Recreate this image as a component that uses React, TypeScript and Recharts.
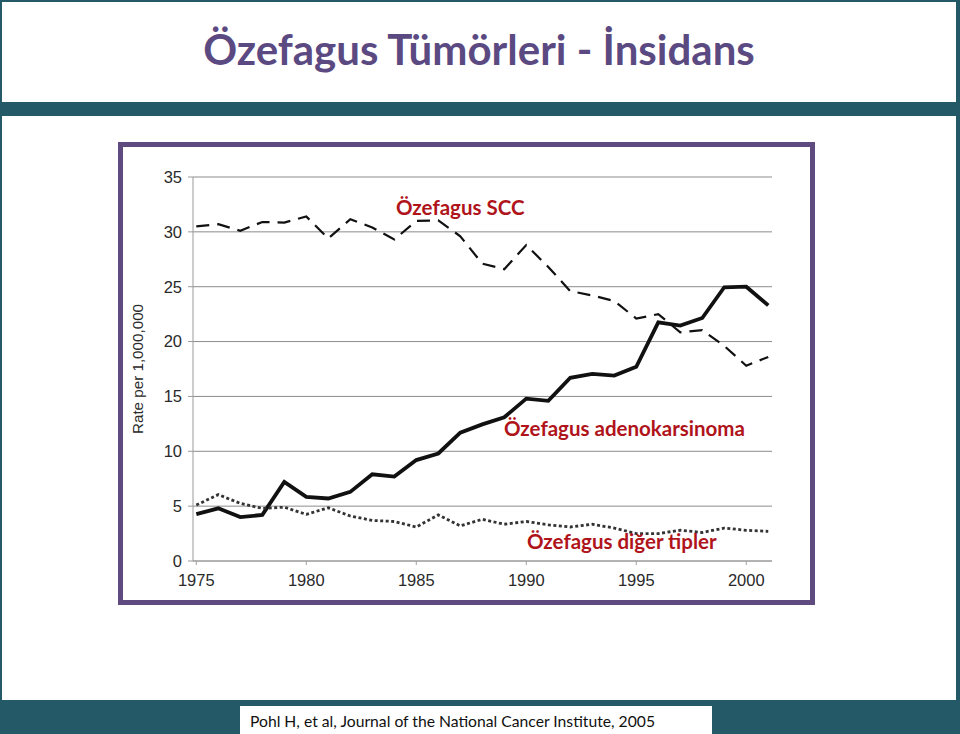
import type { CSSProperties } from 'react';
import { CartesianGrid, Line, LineChart, XAxis, YAxis } from 'recharts';

const years = [
  1975, 1976, 1977, 1978, 1979, 1980, 1981, 1982, 1983, 1984, 1985, 1986, 1987, 1988,
  1989, 1990, 1991, 1992, 1993, 1994, 1995, 1996, 1997, 1998, 1999, 2000, 2001
];
const sccRates = [
  30.5, 30.7, 30.1, 30.9, 30.85, 31.4, 29.4, 31.15, 30.4, 29.3, 31.0, 31.05, 29.6, 27.1,
  26.6, 28.8, 26.8, 24.6, 24.2, 23.7, 22.1, 22.5, 20.85, 21.05, 19.6, 17.8, 18.6
];
const adenoRates = [
  4.27, 4.8, 4.0, 4.2, 7.2, 5.85, 5.7, 6.3, 7.9, 7.7, 9.2, 9.8, 11.7, 12.45,
  13.1, 14.8, 14.6, 16.7, 17.05, 16.9, 17.7, 21.75, 21.45, 22.15, 24.95, 25.0, 23.3
];
const otherRates = [
  5.1, 6.05, 5.25, 4.8, 4.9, 4.25, 4.85, 4.1, 3.7, 3.6, 3.1, 4.2, 3.2, 3.8,
  3.35, 3.6, 3.3, 3.1, 3.35, 3.0, 2.5, 2.5, 2.8, 2.6, 3.0, 2.8, 2.7
];
const xTicks = [1975, 1980, 1985, 1990, 1995, 2000];
const yTicks = [0, 5, 10, 15, 20, 25, 30, 35];

const data = years.map((year, i) => ({
  year,
  scc: sccRates[i],
  adeno: adenoRates[i],
  other: otherRates[i]
}));

const teal = '#245a68';
const purple = '#5f4b7f';
const red = '#b0141b';

const noteStyle: CSSProperties = {
  position: 'absolute',
  color: red,
  fontFamily: 'Lato, sans-serif',
  fontWeight: 700,
  fontSize: 20.5,
  lineHeight: '20px',
  whiteSpace: 'nowrap'
};

const axisFont = '"Liberation Sans", Arial, sans-serif';
const tickStyle = { fill: '#2a2a2a', fontSize: 16.5, fontFamily: axisFont };

export default function App() {
  return (
    <div style={{ position: 'fixed', left: 0, top: 0, width: 960, height: 734, background: teal, overflow: 'hidden' }}>
      {/* title box */}
      <div style={{ position: 'absolute', left: 2, top: 2, width: 954, height: 100, background: '#fff' }} />
      <div
        style={{
          position: 'absolute',
          left: 0,
          top: 24,
          width: 958,
          textAlign: 'center',
          color: '#5b4a82',
          fontFamily: 'Lato, sans-serif',
          fontWeight: 700,
          fontSize: 42,
          lineHeight: '50px',
          whiteSpace: 'nowrap'
        }}
      >
        Özefagus Tümörleri - İnsidans
      </div>

      {/* main content box */}
      <div style={{ position: 'absolute', left: 2, top: 116, width: 954, height: 584, background: '#fff' }} />

      {/* chart frame */}
      <div
        style={{
          position: 'absolute',
          left: 118,
          top: 142,
          width: 697,
          height: 463,
          boxSizing: 'border-box',
          border: `5px solid ${purple}`,
          background: '#fff'
        }}
      />
      <div style={{ position: 'absolute', left: 120, top: 147 }}>
        <LineChart width={690} height={450} data={data} margin={{ top: 30, right: 38, bottom: 0, left: 0 }}>
          <CartesianGrid vertical={false} stroke="#8c8c8c" />
          <XAxis
            dataKey="year"
            type="number"
            domain={[1974.85, 2001.17]}
            ticks={xTicks}
            height={36}
            stroke="#a0a0a0"
            tickSize={4}
            tickMargin={9}
            tick={tickStyle}
          />
          <YAxis
            type="number"
            domain={[0, 35]}
            ticks={yTicks}
            width={73}
            stroke="#9a9a9a"
            tickSize={5}
            tickMargin={6}
            tick={tickStyle}
            label={{
              value: 'Rate per 1,000,000',
              angle: -90,
              position: 'insideLeft',
              offset: 18,
              style: { textAnchor: 'middle', fill: '#2a2a2a', fontSize: 15.2, fontFamily: axisFont }
            }}
          />
          <Line
            dataKey="scc"
            type="linear"
            stroke="#111"
            strokeWidth={2.2}
            strokeDasharray="13 8"
            dot={false}
            isAnimationActive={false}
          />
          <Line
            dataKey="adeno"
            type="linear"
            stroke="#111"
            strokeWidth={3.8}
            dot={false}
            isAnimationActive={false}
          />
          <Line
            dataKey="other"
            type="linear"
            stroke="#333"
            strokeWidth={2.8}
            strokeDasharray="3 2.5"
            dot={false}
            isAnimationActive={false}
          />
        </LineChart>
      </div>

      <div style={{ ...noteStyle, left: 396, top: 197 }}>Özefagus SCC</div>
      <div style={{ ...noteStyle, left: 504, top: 418 }}>Özefagus adenokarsinoma</div>
      <div style={{ ...noteStyle, left: 527, top: 531 }}>Özefagus diğer tipler</div>

      {/* citation */}
      <div style={{ position: 'absolute', left: 240, top: 706, width: 472, height: 28, background: '#fff' }} />
      <div
        style={{
          position: 'absolute',
          left: 250,
          top: 711,
          color: '#111',
          fontFamily: 'Lato, sans-serif',
          fontSize: 15.7,
          lineHeight: '20px',
          whiteSpace: 'nowrap'
        }}
      >
        Pohl H, et al, Journal of the National Cancer Institute, 2005
      </div>
    </div>
  );
}
